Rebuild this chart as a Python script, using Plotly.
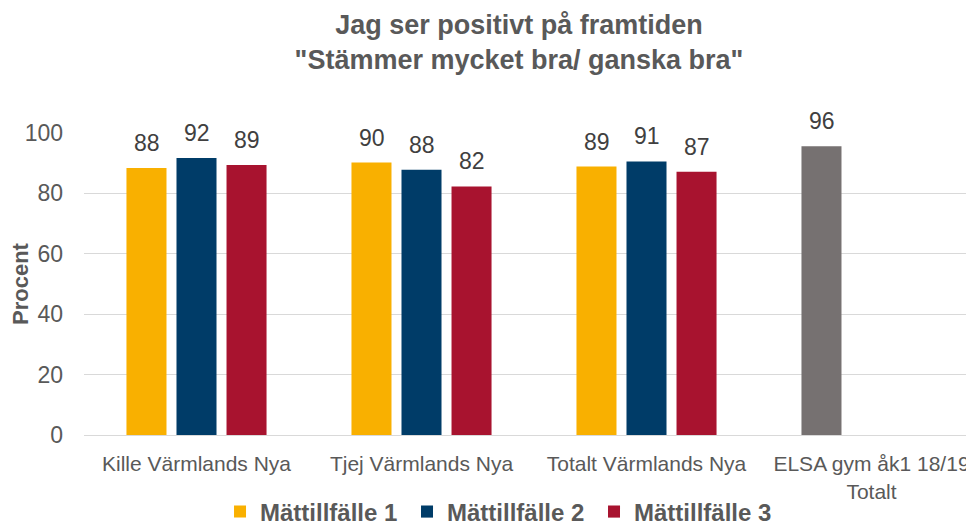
import plotly.graph_objects as go

categories = ["Kille Värmlands Nya", "Tjej Värmlands Nya", "Totalt Värmlands Nya", "ELSA gym åk1 18/19<br>Totalt"]
series_names = ["Mättillfälle 1", "Mättillfälle 2", "Mättillfälle 3"]
m1 = [88.4, 90.2, 88.9, 95.6]
m2 = [91.7, 87.8, 90.6, None]
m3 = [89.4, 82.3, 87.2, None]
colors = ["#F9B000", "#003C68", "#A8132F"]
elsa_color = "#767171"

FONT = "Liberation Sans, Arial"
W, H = 966, 517          # page body has an 8px margin
L, T, B = 76, 125, 90
PW = 890                 # plot width (extends past right edge like reference)

fig = go.Figure()
values = [m1, m2, m3]
annotations = []
for i, (name, vals) in enumerate(zip(series_names, values)):
    mc = [colors[0]] * 3 + [elsa_color] if i == 0 else colors[i]
    fig.add_trace(go.Bar(
        x=categories, y=vals, name="<b>" + name + "</b>",
        marker=dict(color=mc, line=dict(width=0)),
    ))
    for c, v in zip(categories, vals):
        if v is None:
            continue
        annotations.append(dict(
            x=c, y=v, xref="x", yref="y", text=f"{v:.0f}", showarrow=False,
            yanchor="bottom", xanchor="center", xshift=(i - 1) * 50, yshift=10,
            font=dict(size=23, color="#404040", family=FONT),
        ))

annotations.append(dict(
    x=(12 - L) / (W - L), xref="paper", y=0.5, yref="paper", text="<b>Procent</b>",
    showarrow=False, textangle=-90, font=dict(size=22, color="#595959", family=FONT),
    xanchor="center", yanchor="middle",
))

fig.update_layout(
    width=W, height=H,
    margin=dict(l=L, r=0, t=T, b=B, pad=0, autoexpand=False),
    paper_bgcolor="white", plot_bgcolor="white",
    barmode="group", bargap=0.333, bargroupgap=0.2,
    font=dict(family=FONT, color="#595959"),
    title=dict(
        text="<b>Jag ser positivt på framtiden<br>\"Stämmer mycket bra/ ganska bra\"</b>",
        x=511 / W, xanchor="center", y=1 - 26 / H, yanchor="top",
        font=dict(size=27, color="#595959", family=FONT),
    ),
    showlegend=True,
    legend=dict(
        orientation="h", x=0.468, xanchor="center", y=-0.255, yanchor="middle",
        font=dict(size=24, color="#595959", family=FONT),
        traceorder="normal", itemwidth=30, entrywidth=142,
    ),
    annotations=annotations,
)

fig.update_xaxes(
    range=[-0.5, -0.5 + PW / 225], automargin=False,
    showline=True, linecolor="#D9D9D9", linewidth=1,
    ticks="", tickfont=dict(size=21, color="#595959", family=FONT),
    ticklabelstandoff=10,
)
fig.update_yaxes(
    range=[0, 100], dtick=20, automargin=False,
    showgrid=True, gridcolor="#D9D9D9", gridwidth=1,
    zeroline=False, showline=False, ticks="",
    tickfont=dict(size=23, color="#595959", family=FONT),
    ticklabelstandoff=20,
)

fig.write_html("out.html")
